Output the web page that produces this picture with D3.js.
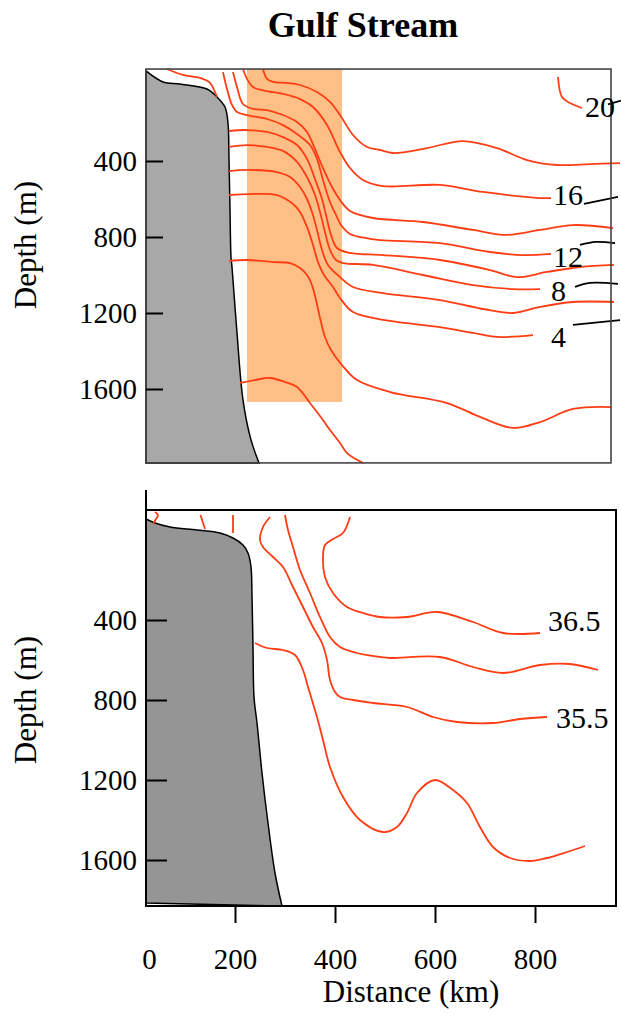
<!DOCTYPE html>
<html>
<head>
<meta charset="utf-8">
<script src="https://cdn.jsdelivr.net/npm/d3@7"></script>
<style>
  html, body { margin: 0; padding: 0; background: #fff; }
  svg { display: block; }
</style>
</head>
<body>
<svg id="chart"></svg>
<script>
// values: [distance km, depth m]
const xTickValues = [0, 200, 400, 600, 800];
const depthTicks = [400, 800, 1200, 1600];

// panel extents
const topKm = [22, 952], topDepth = [-84, 1989];
const botKm = [22, 962], botDepth = [-150, 1830];
const axisLineTop = -250;

// orange band (top panel)
const bandKm = [224, 414];
const bandDepth = [-84, 1668];

// continental shelf outlines
const tempShelf = [[22,-74],[56,-16],[90,-5],[144,21],[164,63],[180,116],[186,200],[188,395],[190,658],[192,905],[194,958],[204,1305],[216,1658],[232,1868],[248,1989]];
const tempShelfBase = [22, 1989];
const saltShelf = [[22,-105],[40,-85],[70,-65],[124,-50],[170,-35],[196,-10],[216,25],[226,65],[232,135],[234,285],[236,535],[238,785],[244,915],[254,1165],[266,1415],[280,1665],[294,1830]];
const saltShelfBase = [22, 1815];

// temperature contours
const tempContours = [
  [[64,-84],[96,-53],[130,-37],[150,-11],[160,37],[164,63]],
  [[256,-84],[264,-32],[276,-16],[304,-11],[330,0],[364,37],[390,89],[410,158],[436,263],[464,326],[490,342],[516,358],[584,332],[656,295],[724,332],[784,395],[844,421],[910,416],[970,411]],
  [[216,-84],[224,-32],[236,11],[264,32],[296,47],[330,74],[356,116],[384,211],[410,353],[430,437],[456,500],[496,532],[610,526],[696,563],[810,595],[832,595]],
  [[196,-68],[204,11],[216,100],[236,126],[264,132],[296,158],[324,195],[344,247],[360,337],[376,437],[394,537],[410,605],[430,663],[476,700],[576,721],[676,763],[744,789],[810,763],[876,737],[956,753]],
  [[176,-68],[184,21],[194,105],[204,142],[224,158],[264,179],[296,211],[324,258],[350,316],[364,389],[376,500],[390,616],[402,684],[412,737],[430,784],[460,805],[490,816],[610,832],[710,879],[776,895],[832,889]],
  [[188,242],[224,237],[264,247],[296,274],[324,316],[344,389],[360,495],[374,600],[382,684],[392,789],[404,858],[430,884],[496,895],[610,921],[710,974],[764,1011],[824,984],[890,958],[958,947]],
  [[188,326],[224,316],[264,326],[296,347],[324,405],[346,495],[360,579],[370,668],[380,774],[390,868],[402,921],[416,937],[476,947],[576,1000],[676,1053],[756,1074],[810,1074]],
  [[188,453],[224,447],[284,458],[310,484],[330,537],[344,600],[354,668],[364,763],[374,868],[386,947],[410,1011],[436,1063],[496,1095],[610,1132],[696,1179],[756,1200],[810,1168],[876,1142],[958,1142]],
  [[188,579],[230,574],[284,579],[316,626],[330,668],[344,747],[356,842],[366,932],[378,1000],[396,1063],[410,1121],[436,1195],[510,1242],[610,1274],[676,1305],[724,1326],[796,1316]],
  [[188,926],[224,921],[276,932],[310,937],[330,963],[344,1000],[354,1053],[362,1132],[370,1226],[380,1326],[392,1395],[414,1474],[444,1553],[510,1616],[624,1674],[690,1747],[756,1805],[810,1774],[876,1705],[952,1695]],
  [[210,1568],[240,1553],[270,1542],[300,1563],[324,1589],[350,1674],[370,1742],[390,1816],[410,1884],[424,1937],[456,1989]],
  [[846,-42],[854,63],[870,95],[894,121]]
];
const tempLabels = ["20", "16", "12", "8", "4"];
const tempLabelAt = [[900,111],[836,574],[836,905],[832,1079],[832,1326]];
const tempLeaders = [
  [[946,102],[972,82]],
  [[898,626],[966,589]],
  [[890,842],[922,826],[960,832]],
  [[880,1063],[910,1042],[966,1047]],
  [[876,1263],[970,1237]]
];

// salinity contours
const saltContours = [
  [[40,-140],[46,-125],[42,-105],[36,-80]],
  [[131,-125],[140,-55]],
  [[196,-125],[196,-35]],
  [[270,-115],[256,-65],[250,0],[256,35],[276,85],[296,135],[316,235],[336,335],[356,435],[374,515],[384,600],[390,700],[400,760],[410,785],[436,800],[476,815],[544,835],[596,885],[644,910],[716,915],[770,895],[824,885]],
  [[300,-125],[306,-50],[316,35],[330,150],[350,265],[370,385],[390,485],[410,535],[444,565],[490,585],[510,590],[610,585],[676,635],[736,665],[810,625],[870,620],[926,650]],
  [[430,-115],[416,-35],[396,-5],[380,25],[376,85],[380,185],[396,265],[424,335],[456,365],[490,385],[544,385],[604,360],[676,410],[736,465],[810,465]],
  [[240,515],[264,540],[296,550],[320,575],[336,650],[346,735],[364,885],[376,1000],[390,1135],[416,1285],[450,1400],[496,1460],[524,1435],[544,1365],[564,1265],[600,1200],[636,1250],[664,1315],[690,1435],[716,1535],[750,1590],[790,1605],[824,1590],[864,1560],[900,1530]]
];
const saltLabels = ["36.5", "35.5"];
const saltLabelAt = [[826,400],[842,885]];

const width = 621, height = 1014;
const font = '"Liberation Serif", "Times New Roman", serif';
const red = "#ff3c14";

const svg = d3.select("#chart")
  .attr("width", width)
  .attr("height", height)
  .style("font-family", font);

const x = d3.scaleLinear().domain([0, 1000]).range([135, 635]);
const yTop = d3.scaleLinear().domain([0, 2000]).range([85, 465]);
const yBot = d3.scaleLinear().domain([0, 2000]).range([540, 940]);

function drawPanel(y, opts) {
  const g = svg.append("g");
  const line = d3.line().x(d => x(d[0])).y(d => y(d[1])).curve(d3.curveCatmullRom.alpha(0.5));

  if (opts.band) {
    g.append("rect")
      .attr("x", x(opts.band[0][0]))
      .attr("y", y(opts.band[1][0]))
      .attr("width", x(opts.band[0][1]) - x(opts.band[0][0]))
      .attr("height", y(opts.band[1][1]) - y(opts.band[1][0]))
      .attr("fill", "#fdbf86");
  }

  g.append("path")
    .attr("d", line(opts.shelf) + `L${x(opts.shelfBase[0])},${y(opts.shelfBase[1])}Z`)
    .attr("fill", opts.shelfFill)
    .attr("stroke", "#000")
    .attr("stroke-width", 1.5);

  g.selectAll(".contour")
    .data(opts.contours)
    .enter()
    .append("path")
    .attr("class", "contour")
    .attr("d", line)
    .attr("fill", "none")
    .attr("stroke", red)
    .attr("stroke-width", 1.8);

  if (opts.leaders) {
    g.selectAll(".leader")
      .data(opts.leaders)
      .enter()
      .append("path")
      .attr("class", "leader")
      .attr("d", line)
      .attr("fill", "none")
      .attr("stroke", "#000")
      .attr("stroke-width", 1.8);
  }

  g.append("rect")
    .attr("x", x(opts.km[0]))
    .attr("y", y(opts.depth[0]))
    .attr("width", x(opts.km[1]) - x(opts.km[0]))
    .attr("height", y(opts.depth[1]) - y(opts.depth[0]))
    .attr("fill", "none")
    .attr("stroke", opts.frameColor)
    .attr("stroke-width", opts.frameWidth);

  g.selectAll(".clabel")
    .data(opts.labels)
    .enter()
    .append("text")
    .attr("class", "clabel")
    .attr("x", (d, i) => x(opts.labelAt[i][0]))
    .attr("y", (d, i) => y(opts.labelAt[i][1]))
    .attr("dominant-baseline", "central")
    .attr("font-size", 30)
    .attr("fill", "#000")
    .text(d => d);

  const yAxis = g.append("g")
    .attr("transform", `translate(${x(opts.km[0])},0)`)
    .call(d3.axisLeft(y).tickValues(depthTicks).tickFormat(d3.format("d"))
      .tickSize(-opts.tickLen).tickPadding(9));
  yAxis.select(".domain").remove();
  yAxis.selectAll(".tick line").attr("stroke", "#000").attr("stroke-width", 2);
  yAxis.selectAll(".tick text")
    .attr("font-family", font)
    .attr("font-size", 29)
    .attr("fill", "#000");

  g.append("text")
    .attr("transform", `translate(36,${opts.titleY}) rotate(-90)`)
    .attr("text-anchor", "middle")
    .attr("font-size", 31)
    .attr("fill", "#000")
    .text("Depth (m)");

  return g;
}

drawPanel(yTop, {
  km: topKm, depth: topDepth,
  band: [bandKm, bandDepth],
  shelf: tempShelf, shelfBase: tempShelfBase, shelfFill: "#a8a8a8",
  contours: tempContours, leaders: tempLeaders,
  labels: tempLabels, labelAt: tempLabelAt,
  frameColor: "#444", frameWidth: 1.6, tickLen: 17, titleY: 245
});

const bottom = drawPanel(yBot, {
  km: botKm, depth: botDepth,
  shelf: saltShelf, shelfBase: saltShelfBase, shelfFill: "#959595",
  contours: saltContours,
  labels: saltLabels, labelAt: saltLabelAt,
  frameColor: "#000", frameWidth: 2, tickLen: 21, titleY: 700
});

// left axis line of lower panel rises above its frame
bottom.append("line")
  .attr("x1", x(botKm[0])).attr("x2", x(botKm[0]))
  .attr("y1", yBot(axisLineTop)).attr("y2", yBot(botDepth[1]))
  .attr("stroke", "#000").attr("stroke-width", 2);

// distance axis
const xAxis = svg.append("g")
  .attr("transform", `translate(0,${yBot(botDepth[1]) + 1})`)
  .call(d3.axisBottom(x).tickValues(xTickValues).tickSize(16).tickPadding(25));
xAxis.select(".domain").remove();
xAxis.selectAll(".tick line")
  .attr("stroke", "#000").attr("stroke-width", 2)
  .filter(d => d === 0).remove();
xAxis.selectAll(".tick text")
  .attr("font-family", font)
  .attr("font-size", 29)
  .attr("fill", "#000");
// the origin label sits just inside the frame edge
xAxis.selectAll(".tick text").filter(d => d === 0).attr("dx", 14);

svg.append("text")
  .attr("x", 411)
  .attr("y", 1002)
  .attr("text-anchor", "middle")
  .attr("font-size", 31)
  .attr("fill", "#000")
  .text("Distance (km)");

svg.append("text")
  .attr("x", 363)
  .attr("y", 37)
  .attr("text-anchor", "middle")
  .attr("font-size", 36)
  .attr("font-weight", "bold")
  .attr("fill", "#000")
  .text("Gulf Stream");
</script>
</body>
</html>
